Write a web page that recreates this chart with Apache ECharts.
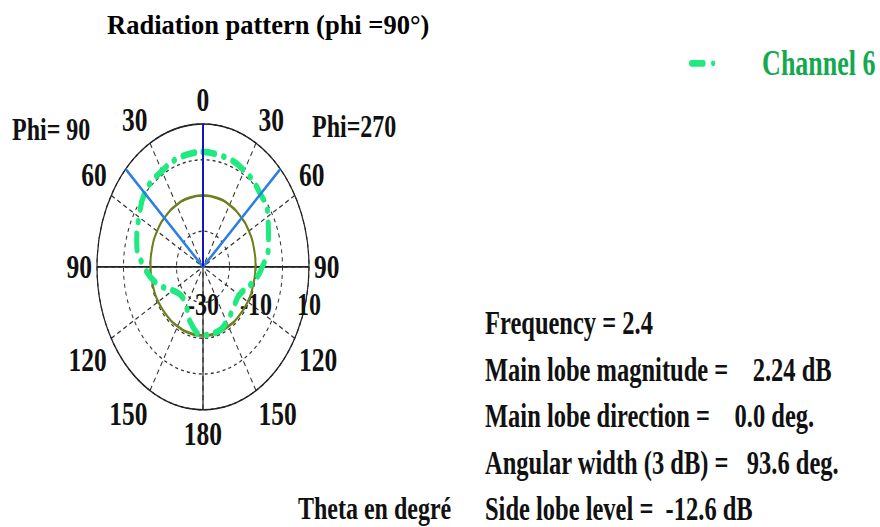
<!DOCTYPE html>
<html>
<head>
<meta charset="utf-8">
<title>Radiation pattern</title>
<script src="https://cdn.jsdelivr.net/npm/echarts@6/dist/echarts.min.js"></script>
<style>
  html, body { margin: 0; padding: 0; background: #fff; overflow: hidden; }
  #wrap { position: relative; width: 880px; height: 527px; }
  /* the polar plot is an ellipse in the picture: draw a circle, stretch it */
  #plot { position: absolute; left: 0; top: 0; width: 880px; height: 391px; transform: scaleY(1.3478); transform-origin: 0 0; }
  #head { position: absolute; left: 0; top: 0; width: 880px; height: 50px; }
</style>
</head>
<body>
<div id="wrap">
  <div id="plot"></div>
  <div id="head"></div>
</div>
<script>
// theta (deg) and gain (dB)
const thetaDeg = [0, 15, 30, 45, 60, 75, 90, 105, 120, 135, 150, 165, 180,
                  195, 210, 225, 240, 255, 270, 285, 300, 315, 330, 345, 360]
const channel6Db = [2.2, 1.8, 1.1, -0.1, -1.7, -4.4, -7.6, -11.2, -14.2, -13.8, -12.2, -11.0, -10.9,
                    -13.3, -17.3, -18.5, -16.8, -12.0, -7.8, -4.1, -2.1, 0.3, 1.0, 1.9, 2.2]
const refRingDb = [-10, -10, -10, -10, -10, -10.1, -10.2, -10.4, -10.5, -10.7, -10.8, -10.8, -10.8,
                   -10.8, -10.8, -10.7, -10.5, -10.4, -10.2, -10.1, -10, -10, -10, -10, -10]
const radiusTickLabels = [-30, -10, 10]
const rMin = -30
const rMax = 10
const mainLobeDir = 0.0
const angularWidth = 93.6
const infoLines = [
  'Frequency = 2.4',
  'Main lobe magnitude =    2.24 dB',
  'Main lobe direction =    0.0 deg.',
  'Angular width (3 dB) =   93.6 deg.',
  'Side lobe level =  -12.6 dB'
]

const serif = "'Liberation Serif', 'Times New Roman', serif"

let plot = echarts.init(document.getElementById('plot'), null, { renderer: 'svg' })
let head = echarts.init(document.getElementById('head'), null, { renderer: 'svg' })

head.setOption({
  animation: false,
  title: {
    text: 'Radiation pattern (phi =90°)',
    left: 107,
    top: 11,
    padding: 0,
    textStyle: { fontFamily: serif, fontWeight: 'bold', fontSize: 26.5, color: '#000' }
  }
})

let halfBeam = angularWidth / 2

function label (text, extra) {
  return Object.assign({ text: text, fontFamily: serif, fontWeight: 'bold', fontSize: 24, fill: '#111' }, extra)
}

plot.setOption({
  animation: false,
  legend: {
    data: [{
      name: 'Channel 6',
      icon: 'path://M3,0 H17 A3,3 0 0 1 17,6 H3 A3,3 0 0 1 3,0 Z M29,0.5 A2.5,2.5 0 1 1 29,5.5 A2.5,2.5 0 1 1 29,0.5 Z'
    }],
    left: 689,
    top: 34,
    padding: 0,
    itemWidth: 34,
    itemHeight: 5,
    textStyle: { fontFamily: serif, fontWeight: 'bold', fontSize: 26, color: '#14A94F', padding: [0, 0, 0, 38] }
  },
  polar: [
    { center: [203, 198], radius: 106 },
    { center: [203, 198], radius: 106 }
  ],
  angleAxis: [
    {
      polarIndex: 0,
      type: 'value',
      min: 0,
      max: 360,
      interval: 30,
      startAngle: 90,
      clockwise: true,
      axisLine: { show: true, lineStyle: { color: '#222', width: 1.2 } },
      axisTick: { show: false },
      axisLabel: {
        margin: 5,
        fontFamily: serif,
        fontWeight: 'bold',
        fontSize: 25.5,
        color: '#111',
        formatter: v => String(v <= 180 ? v : 360 - v)
      },
      splitLine: { show: true, lineStyle: { color: '#333', width: 1, type: [4, 3] } }
    },
    {
      polarIndex: 1,
      type: 'value',
      min: 0,
      max: 360,
      interval: 90,
      startAngle: 0,
      axisLine: { show: false },
      axisTick: { show: false },
      axisLabel: { show: false },
      splitLine: { show: true, lineStyle: { color: '#222', width: 1.2 } }
    }
  ],
  radiusAxis: [
    {
      polarIndex: 0,
      min: rMin,
      max: rMax,
      interval: 10,
      axisLine: { show: false },
      axisTick: { show: false },
      axisLabel: { show: false },
      splitLine: { show: true, lineStyle: { color: '#333', width: 1, type: [3, 3] } }
    },
    {
      polarIndex: 1,
      min: rMin,
      max: rMax,
      interval: 10,
      axisLine: { show: false },
      axisTick: { show: false },
      splitLine: { show: false },
      axisLabel: {
        margin: -16,
        verticalAlign: 'top',
        align: 'center',
        alignMinLabel: 'center',
        alignMaxLabel: 'center',
        fontFamily: serif,
        fontWeight: 'bold',
        fontSize: 24,
        color: '#111',
        formatter: v => radiusTickLabels.includes(v) ? String(v) : ''
      }
    }
  ],
  graphic: [
    { type: 'text', left: 12, top: 84, style: label('Phi= 90') },
    { type: 'text', left: 312, top: 82, style: label('Phi=270') },
    { type: 'text', left: 298, top: 365, style: label('Theta en degré') },
    { type: 'text', left: 485, top: 222, style: label(infoLines.join('\n'), { fontSize: 24.5, lineHeight: 34.6 }) }
  ],
  series: [
    {
      name: 'reference',
      type: 'line',
      coordinateSystem: 'polar',
      polarIndex: 0,
      smooth: true,
      symbol: 'none',
      lineStyle: { color: '#6F7F1C', width: 2 },
      data: thetaDeg.map((t, i) => [refRingDb[i], t])
    },
    {
      name: 'Channel 6',
      type: 'line',
      coordinateSystem: 'polar',
      polarIndex: 0,
      smooth: true,
      symbol: 'none',
      itemStyle: { color: '#1EEA80' },
      lineStyle: { color: '#1EEA80', width: 5, type: [12, 9, 0.5, 9], cap: 'round' },
      data: thetaDeg.map((t, i) => [channel6Db[i], t])
    },
    {
      name: 'beam width',
      type: 'line',
      coordinateSystem: 'polar',
      polarIndex: 0,
      symbol: 'none',
      lineStyle: { color: '#2B7FE0', width: 2.2 },
      data: [[rMax, 360 - halfBeam], [rMin, mainLobeDir], [rMax, halfBeam]]
    },
    {
      name: 'main lobe',
      type: 'line',
      coordinateSystem: 'polar',
      polarIndex: 0,
      symbol: 'none',
      lineStyle: { color: '#1414C8', width: 2 },
      data: [[rMin, mainLobeDir], [rMax, mainLobeDir]]
    }
  ]
})
</script>
</body>
</html>
